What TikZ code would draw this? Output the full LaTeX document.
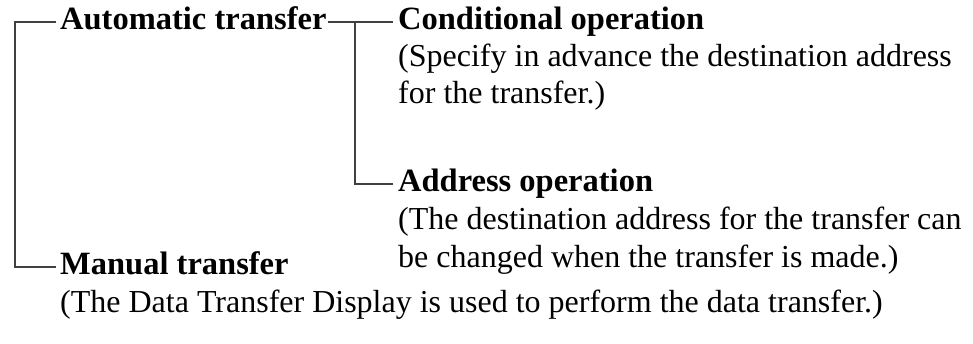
\documentclass[tikz,border=0pt]{standalone}
\usepackage{fontspec}
\setmainfont{Liberation Serif}
\usetikzlibrary{calc}
\begin{document}
\begin{tikzpicture}[x=1pt,y=-1pt]
\tikzset{
  title/.style={anchor=base west, inner sep=0pt, font=\fontsize{32.5}{37}\selectfont\bfseries},
  desc/.style={anchor=base west, inner sep=0pt, font=\fontsize{32}{37}\selectfont},
  conn/.style={draw=black!75, line width=1.1pt}
}
\useasboundingbox (0,0) rectangle (973,344);
\node[title] (auto) at (60,30) {Automatic transfer};
\node[title] (cond) at (398,30) {Conditional operation};
\node[desc] (cond1) at (398,67) {(Specify in advance the destination address};
\node[desc] (cond2) at (398,104) {for the transfer.)};
\node[title] (addr) at (398,192) {Address operation};
\node[desc] (addr1) at (398,230) {(The destination address for the transfer can};
\node[desc] (addr2) at (398,268) {be changed when the transfer is made.)};
\node[title] (man) at (60,275) {Manual transfer};
\node[desc] (man1) at (60,312) {(The Data Transfer Display is used to perform the data transfer.)};
\coordinate (lt) at (15,22);
\coordinate (j) at (355,22);
\draw[conn] ($(auto.base west)+(-4,-8)$) -- (lt) |- ($(man.base west)+(-4,-8)$);
\draw[conn] ($(auto.base east)+(1,-8)$) -- ($(cond.base west)+(-5,-8)$);
\draw[conn] (j) |- ($(addr.base west)+(-5,-8)$);
\end{tikzpicture}
\end{document}
